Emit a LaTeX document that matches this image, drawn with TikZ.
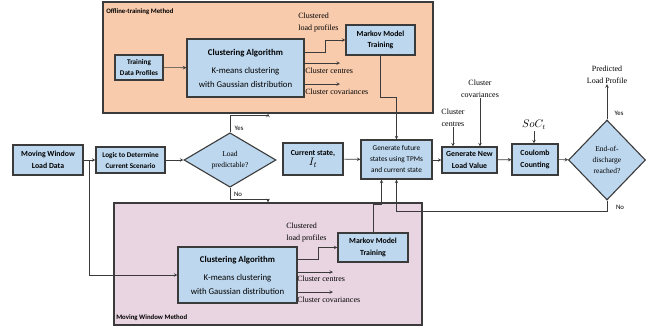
\documentclass[tikz,border=0pt]{standalone}
\usepackage{fontspec}
\setmainfont{Liberation Serif}
\setsansfont{Carlito}
\usepackage{tikz}
\usetikzlibrary{shapes.geometric}
\usepackage{xcolor}
\definecolor{peach}{HTML}{F8CBAD}
\definecolor{pinkbg}{HTML}{E9D5E1}
\definecolor{boxblue}{HTML}{BDD7EE}
\definecolor{edge}{HTML}{3B3B3B}

\begin{document}
\begin{tikzpicture}[x=1pt, y=-1pt, >=stealth, line width=0.6pt, draw=edge,
    area/.style={draw=edge, rectangle, line width=1.2pt, inner sep=0pt},
    block/.style={draw=edge, fill=boxblue, rectangle, line width=1.1pt, align=center, inner sep=1pt, font=\sffamily\bfseries\fontsize{7.8}{11.5}\selectfont},
    decision/.style={draw=edge, fill=boxblue, diamond, line width=1.1pt, align=center, inner sep=0pt, font=\fontsize{7.5}{11}\selectfont},
    note/.style={align=left, inner sep=0pt, font=\fontsize{8}{12}\selectfont},
    areatitle/.style={anchor=west, inner sep=0pt, font=\sffamily\bfseries\fontsize{6.8}{8}\selectfont},
    answer/.style={inner sep=0pt, font=\sffamily\fontsize{6.8}{8}\selectfont}]
    \useasboundingbox (0,0) rectangle (657,333);

    % Zonas de fondo
    \node [area, fill=peach, minimum width=330pt, minimum height=111pt] (offline) at (268,57.5) {};
    \node [area, fill=pinkbg, minimum width=308pt, minimum height=122pt] (window) at (268,264) {};
    \node [areatitle] (offtitle) at (106,12) {Offline-training Method};
    \node [areatitle] (wintitle) at (116,318) {Moving Window Method};

    % Bloques del metodo offline
    \node [block, minimum width=48pt, minimum height=25pt, font=\sffamily\bfseries\fontsize{7.2}{11}\selectfont] (train) at (139,67.5) {Training\\Data Profiles};
    \node [block, minimum width=117pt, minimum height=58pt, font=\sffamily\fontsize{8.8}{14}\selectfont] (clus1) at (245.5,68) {\textbf{Clustering Algorithm}\\[4pt]K-means clustering\\with Gaussian distribution};
    \node [block, minimum width=69pt, minimum height=30pt] (markov1) at (380.5,40) {Markov Model\\Training};
    \node [note, anchor=west] (prof1) at (298,23) {Clustered\\load profiles};
    \node [note, anchor=west] (cen1) at (305,71) {Cluster centres};
    \node [note, anchor=west] (cov1) at (305,92) {Cluster covariances};
    \coordinate (cen1end) at (340,63);
    \coordinate (cov1end) at (340,84);

    % Fila principal
    \node [block, minimum width=70pt, minimum height=30pt] (movwin) at (48,160) {Moving Window\\Load Data};
    \node [block, minimum width=69pt, minimum height=26pt, font=\sffamily\bfseries\fontsize{7.2}{11}\selectfont] (logic) at (130.5,160) {Logic to Determine\\Current Scenario};
    \node [decision, minimum width=92pt, minimum height=50pt] (pred) at (230,160) {Load\\predictable?};
    \node [block, minimum width=60pt, minimum height=32pt] (current) at (313,159) {Current state,\\[-1pt]{\normalfont\fontsize{11}{11}\selectfont$I_t$}};
    \node [block, minimum width=71pt, minimum height=39pt, font=\sffamily\fontsize{7.3}{11}\selectfont] (future) at (396.5,159.5) {Generate future\\states using TPMs\\and current state};
    \node [block, minimum width=55pt, minimum height=26pt] (newload) at (469.5,160) {Generate New\\Load Value};
    \node [block, minimum width=46pt, minimum height=31pt] (coulomb) at (535,159.5) {Coulomb\\Counting};
    \node [decision, minimum width=77pt, minimum height=80pt] (eod) at (607,160) {End-of-\\discharge\\reached?};
    \node [note, align=center] (predlp) at (607,75) {Predicted\\Load Profile};
    \node [note, align=center] (cen3) at (453,118) {Cluster\\centres};
    \node [note, align=center] (cov3) at (480,89) {Cluster\\covariances};
    \node [inner sep=1pt, font=\fontsize{10.5}{12}\selectfont] (soc) at (534,125) {$SoC_t$};

    % Bloques del metodo de ventana movil
    \node [block, minimum width=119pt, minimum height=56pt, font=\sffamily\fontsize{8.8}{14}\selectfont] (clus2) at (237.5,275) {\textbf{Clustering Algorithm}\\[4pt]K-means clustering\\with Gaussian distribution};
    \node [block, minimum width=70pt, minimum height=29pt] (markov2) at (373,247.5) {Markov Model\\Training};
    \node [note, anchor=west] (prof2) at (286,233) {Clustered\\load profiles};
    \node [note, anchor=west] (cen2) at (297,279) {Cluster centres};
    \node [note, anchor=west] (cov2) at (297,300) {Cluster covariances};
    \coordinate (cen2end) at (333,272);
    \coordinate (cov2end) at (333,292);

    % Respuestas
    \node [answer] (yes1) at (239,128) {Yes};
    \node [answer] (no1) at (238,194) {No};
    \node [answer] (yes2) at (619,113) {Yes};
    \node [answer] (no2) at (620,207) {No};

    % Flechas
    \draw[->] (train) -- (clus1);
    \draw[->] ([yshift=16pt]clus1.east) -- ++(21,0) |- (markov1.west);
    \draw[->] ([yshift=5pt]clus1.east) -- (cen1end);
    \draw[->] ([yshift=-16pt]clus1.east) -- (cov1end);
    \draw[->] (markov1.south) -- ++(0,42) -| (future.north);

    \draw[->] (movwin) -- (logic);
    \draw[->] ([xshift=6pt]movwin.east) |- (clus2.west);
    \draw[->] (logic) -- (pred);
    \draw[->] (pred.north) -- ++(0,-17) -| (offline.south);
    \draw[->] (pred.south) -- ++(0,12) -| (window.north);

    \draw[->] (current) -- (future);
    \draw[->] (future.east |- newload.west) -- (newload.west);
    \draw[->] (newload) -- (coulomb);
    \draw[->] (coulomb) -- (eod);
    \draw[->] (eod.north) -- (predlp.south);
    \draw[->] (eod.south) -- ++(0,11) -| (future.south);
    \draw[->] (cen3.south) -- (cen3.south |- newload.north);
    \draw[->] (cov3.south) -- (cov3.south |- newload.north);
    \draw[->] (soc.south) -- (soc.south |- coulomb.north);

    \draw[->] ([yshift=16pt]clus2.east) -- ++(21,0) |- (markov2.west);
    \draw[->] ([yshift=3pt]clus2.east) -- (cen2end);
    \draw[->] ([yshift=-17pt]clus2.east) -- (cov2end);
    \draw[->] (markov2.north) -- ++(0,-28) -| ([xshift=-15pt]future.south);
\end{tikzpicture}
\end{document}
